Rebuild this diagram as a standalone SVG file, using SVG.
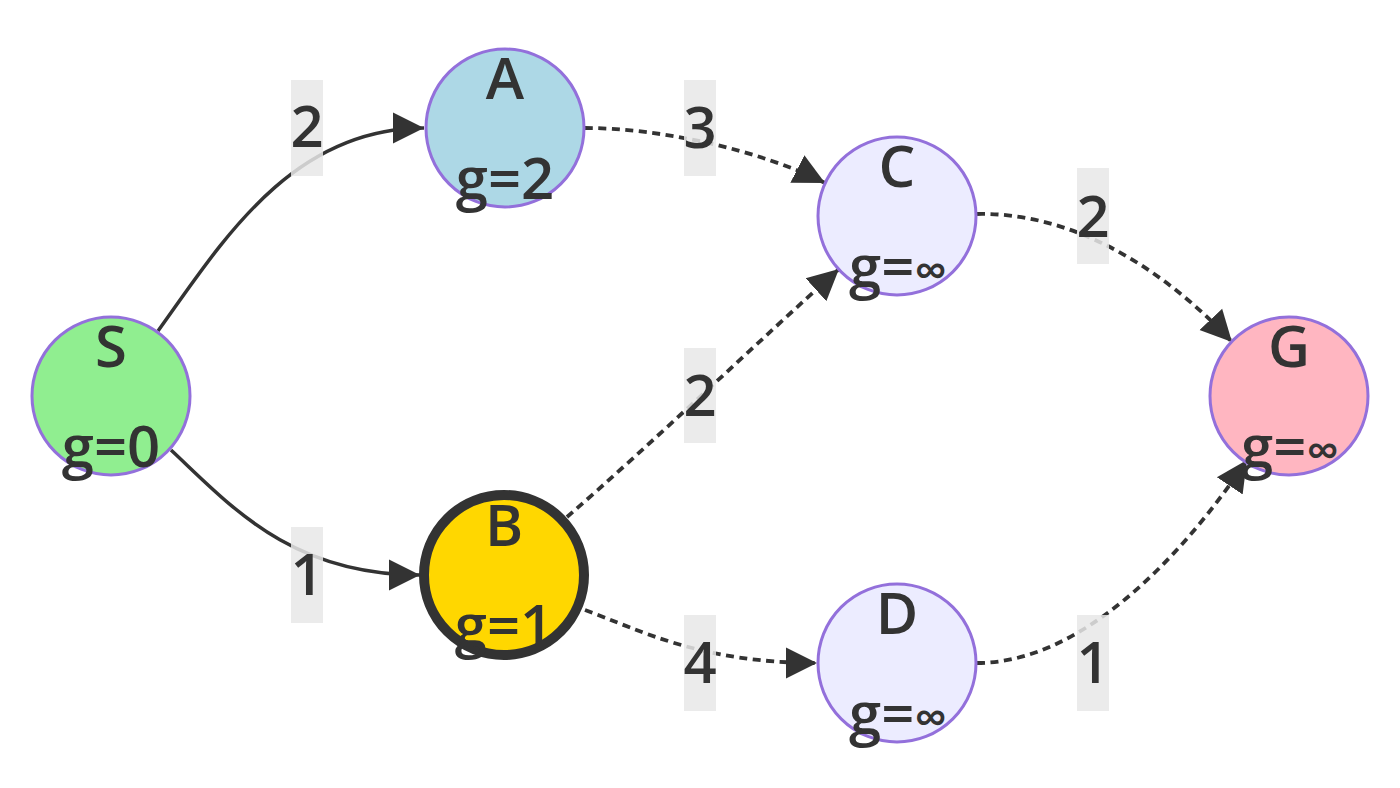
<svg xmlns="http://www.w3.org/2000/svg" width="1400" height="788" viewBox="0 0 1400 788">
<style>
.edge{fill:none;stroke:#333;stroke-width:3.5}
.dot{stroke-dasharray:8 5.5;stroke-width:3.8}
.lbox{fill:#e8e8e8;fill-opacity:0.85}
.ltxt{font-family:"Open Sans","Noto Sans","DejaVu Sans",sans-serif;font-size:58px;font-weight:600;fill:#333;text-anchor:middle}
.node circle{stroke:#9370DB;stroke-width:3}
.ntxt{font-family:"Open Sans","Noto Sans","DejaVu Sans",sans-serif;font-size:58px;font-weight:600;fill:#333;text-anchor:middle}
.inf{font-size:46px}
</style>
<defs>
<marker id="arr" viewBox="0 0 10 10" refX="10" refY="5" markerWidth="31" markerHeight="33" markerUnits="userSpaceOnUse" orient="auto">
<path d="M0,0 L10,5 L0,10 z" fill="#333"/>
</marker>
</defs>
<rect width="1400" height="788" fill="#fff"/>
<g id="edges">
<path class="edge" d="M158,331 C220,245 290,128 424,128" marker-end="url(#arr)"/>
<path class="edge" d="M171,450 C230,505 290,575 420,575" marker-end="url(#arr)"/>
<path class="edge dot" d="M585,128 C660,128 760,150 825,183" marker-end="url(#arr)"/>
<path class="edge dot" d="M567,517 C650,445 760,340 839,269" marker-end="url(#arr)"/>
<path class="edge dot" d="M585,610 C640,630 700,663 817,663" marker-end="url(#arr)"/>
<path class="edge dot" d="M977,214 C1070,212 1160,265 1232,342" marker-end="url(#arr)"/>
<path class="edge dot" d="M977,663 C1080,663 1180,560 1247,460" marker-end="url(#arr)"/>
</g>
<g id="edge-labels">
<rect class="lbox" x="291" y="80" width="32" height="96"/><text class="ltxt" x="307" y="147">2</text>
<rect class="lbox" x="291" y="527" width="32" height="96"/><text class="ltxt" x="307" y="595">1</text>
<rect class="lbox" x="684" y="80" width="32" height="96"/><text class="ltxt" x="700" y="148">3</text>
<rect class="lbox" x="684" y="348" width="32" height="95"/><text class="ltxt" x="700" y="416">2</text>
<rect class="lbox" x="684" y="615" width="32" height="96"/><text class="ltxt" x="700" y="683">4</text>
<rect class="lbox" x="1077" y="168" width="32" height="96"/><text class="ltxt" x="1093" y="237">2</text>
<rect class="lbox" x="1077" y="615" width="32" height="96"/><text class="ltxt" x="1093" y="683">1</text>
</g>
<g id="node-S" class="node"><circle cx="111" cy="396" r="79" fill="#90ee90"/><text class="ntxt" x="111" y="367">S</text><text class="ntxt" x="111" y="467">g=0</text></g>
<g id="node-A" class="node"><circle cx="505" cy="128" r="79" fill="#add8e6"/><text class="ntxt" x="505" y="99">A</text><text class="ntxt" x="505" y="199">g=2</text></g>
<g id="node-B" class="node"><circle cx="504" cy="575" r="80" fill="#ffd700" style="stroke:#333;stroke-width:10"/><text class="ntxt" x="504" y="546">B</text><text class="ntxt" x="504" y="646">g=1</text></g>
<g id="node-C" class="node"><circle cx="897" cy="216" r="79" fill="#ECECFF"/><text class="ntxt" x="897" y="187">C</text><text class="ntxt" x="898" y="287">g=<tspan class="inf">∞</tspan></text></g>
<g id="node-D" class="node"><circle cx="897" cy="663" r="79" fill="#ECECFF"/><text class="ntxt" x="897" y="634">D</text><text class="ntxt" x="898" y="734">g=<tspan class="inf">∞</tspan></text></g>
<g id="node-G" class="node"><circle cx="1289" cy="396" r="79" fill="#ffb6c1"/><text class="ntxt" x="1289" y="367">G</text><text class="ntxt" x="1290" y="467">g=<tspan class="inf">∞</tspan></text></g>
</svg>
